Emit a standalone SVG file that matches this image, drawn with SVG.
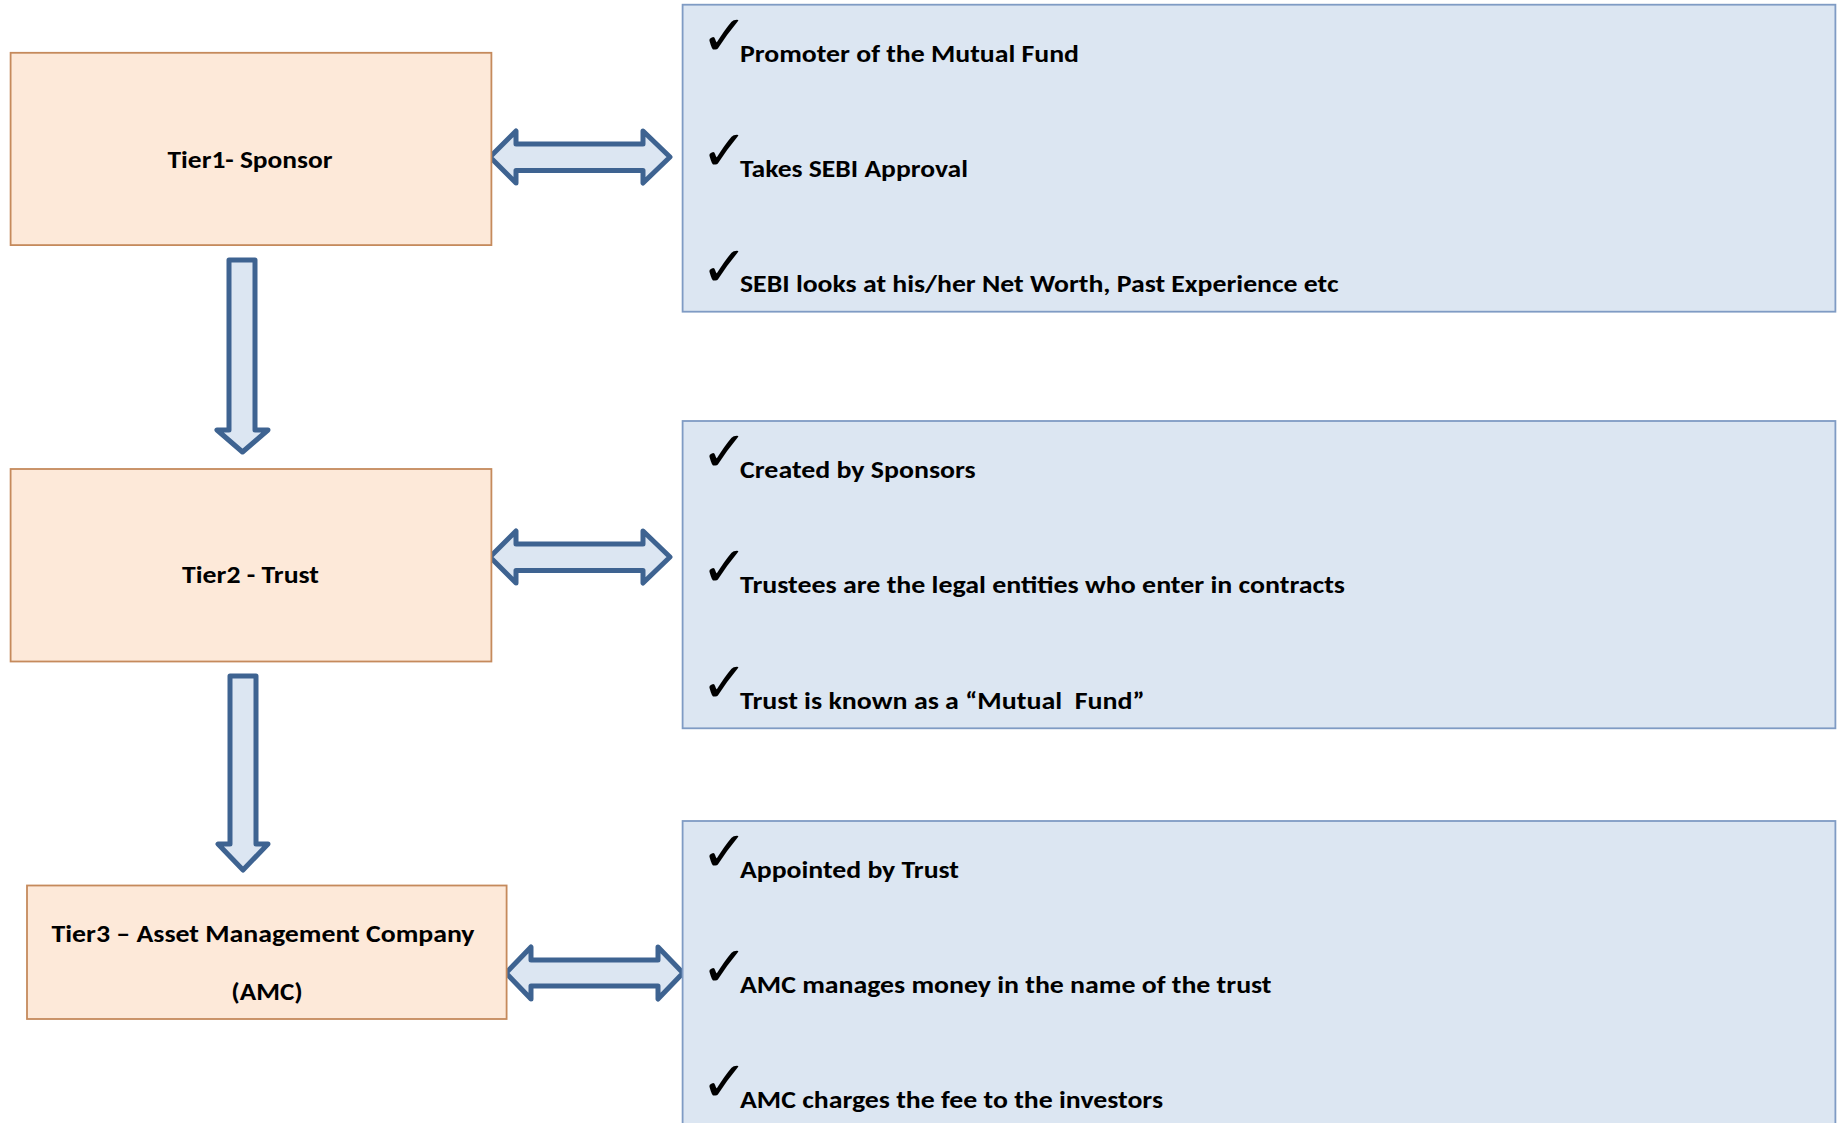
<svg xmlns="http://www.w3.org/2000/svg" width="1839" height="1123" viewBox="0 0 1839 1123">
<style>
.tier{fill:#FDE9D9;stroke:#C58A5C;stroke-width:1.8}
.panel{fill:#DCE6F2;stroke:#7F9BC4;stroke-width:1.8}
.arrow{fill:#DCE6F2;stroke:#3E6391;stroke-width:5;stroke-linejoin:round}
.lbl{font-family:Carlito,"Liberation Sans",Arial,sans-serif;font-weight:bold;font-size:24.5px;fill:#000}
.chk{font-family:"DejaVu Sans",sans-serif;font-weight:bold;font-size:56px;fill:#000}
</style>
<rect width="1839" height="1123" fill="#FFFFFF"/>
<g id="connectors">
<path class="arrow" d="M490,157 L516,131 L516,144 L643,144 L643,131 L670,157 L643,183 L643,170.5 L516,170.5 L516,183 Z"/>
<path class="arrow" d="M490,557 L516,531 L516,544 L643,544 L643,531 L670,557 L643,583 L643,570.5 L516,570.5 L516,583 Z"/>
<path class="arrow" d="M506,973 L531,947 L531,960 L658,960 L658,947 L683,973 L658,999 L658,986 L531,986 L531,999 Z"/>
<path class="arrow" d="M229,260 L255,260 L255,430 L268,430 L242.5,452 L217,430 L229,430 Z"/>
<path class="arrow" d="M230,676 L256,676 L256,844 L268,844 L243,870 L218,844 L230,844 Z"/>
</g>
<g id="tier1">
<rect class="tier" x="10.6" y="52.8" width="480.8" height="192.3"/>
<text class="lbl" x="250" y="168" text-anchor="middle" textLength="165" lengthAdjust="spacingAndGlyphs">Tier1- Sponsor</text>
</g>
<g id="tier2">
<rect class="tier" x="10.6" y="469" width="480.8" height="192.5"/>
<text class="lbl" x="250.5" y="583" text-anchor="middle" textLength="137" lengthAdjust="spacingAndGlyphs">Tier2 - Trust</text>
</g>
<g id="tier3">
<rect class="tier" x="27" y="885.5" width="479.6" height="133.5"/>
<text class="lbl" x="263" y="942" text-anchor="middle" textLength="423" lengthAdjust="spacingAndGlyphs">Tier3 – Asset Management Company</text>
<text class="lbl" x="267" y="1000" text-anchor="middle" textLength="71.5" lengthAdjust="spacingAndGlyphs">(AMC)</text>
</g>
<g id="panel1">
<rect class="panel" x="682.6" y="4.7" width="1152.8" height="307"/>
<text class="chk" x="701" y="55">✓</text>
<text class="lbl" x="740" y="61.7" textLength="339" lengthAdjust="spacingAndGlyphs">Promoter of the Mutual Fund</text>
<text class="chk" x="701" y="170">✓</text>
<text class="lbl" x="740" y="176.7" textLength="228" lengthAdjust="spacingAndGlyphs">Takes SEBI Approval</text>
<text class="chk" x="701" y="285.6">✓</text>
<text class="lbl" x="740" y="292.3" textLength="598.5" lengthAdjust="spacingAndGlyphs">SEBI looks at his/her Net Worth, Past Experience etc</text>
</g>
<g id="panel2">
<rect class="panel" x="682.6" y="421" width="1152.8" height="307.3"/>
<text class="chk" x="701" y="471.3">✓</text>
<text class="lbl" x="740" y="478" textLength="235.7" lengthAdjust="spacingAndGlyphs">Created by Sponsors</text>
<text class="chk" x="701" y="586.3">✓</text>
<text class="lbl" x="740" y="593" textLength="605" lengthAdjust="spacingAndGlyphs">Trustees are the legal entities who enter in contracts</text>
<text class="chk" x="701" y="701.9">✓</text>
<text class="lbl" x="740" y="708.6" textLength="404.6" lengthAdjust="spacingAndGlyphs" xml:space="preserve">Trust is known as a “Mutual  Fund”</text>
</g>
<g id="panel3">
<rect class="panel" x="682.6" y="821" width="1152.8" height="320"/>
<text class="chk" x="701" y="871.3">✓</text>
<text class="lbl" x="740" y="877.5" textLength="219" lengthAdjust="spacingAndGlyphs">Appointed by Trust</text>
<text class="chk" x="701" y="986.3">✓</text>
<text class="lbl" x="740" y="993" textLength="531.5" lengthAdjust="spacingAndGlyphs">AMC manages money in the name of the trust</text>
<text class="chk" x="701" y="1101">✓</text>
<text class="lbl" x="740" y="1107.6" textLength="423" lengthAdjust="spacingAndGlyphs">AMC charges the fee to the investors</text>
</g>
</svg>
